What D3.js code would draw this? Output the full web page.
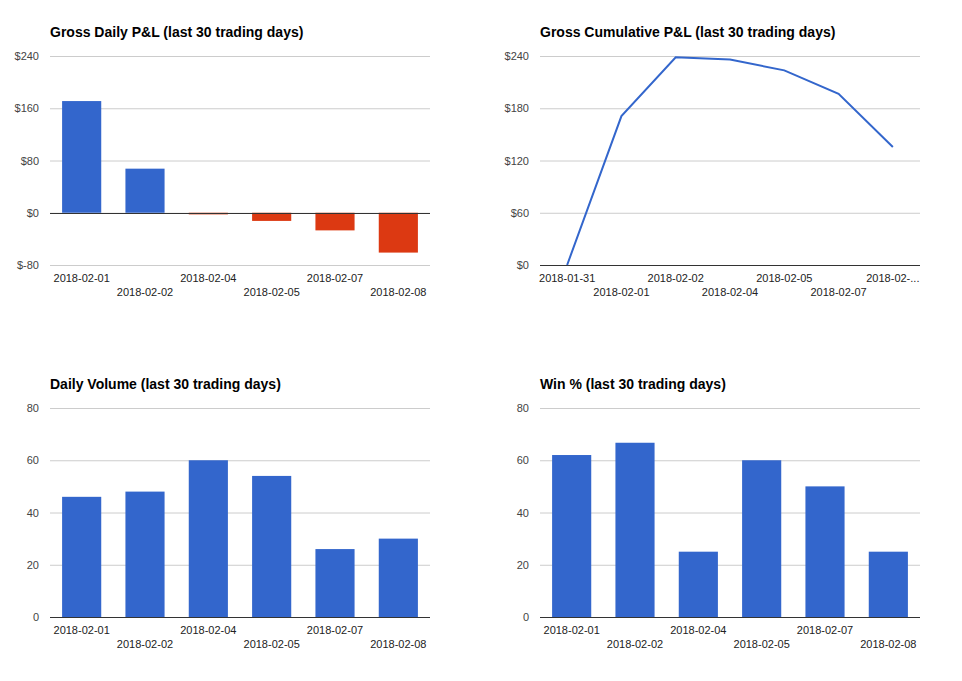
<!DOCTYPE html>
<html>
<head>
<meta charset="utf-8">
<script src="https://cdn.jsdelivr.net/npm/d3@7.9.0/dist/d3.min.js"></script>
<style>
  body { margin: 0; background: #fff; }
  svg { display: block; font-family: Arial, "Liberation Sans", sans-serif; }
  .tick text { fill: #444; font-size: 11px; }
  .title { font-size: 14px; font-weight: bold; fill: #000; }
</style>
</head>
<body>
<svg id="dash" width="962" height="681"></svg>
<script>
// data
const days = ['2018-02-01', '2018-02-02', '2018-02-04', '2018-02-05', '2018-02-07', '2018-02-08'];
const dailyPnl = [171, 67.5, -2.5, -12.5, -27, -61];
const pnlTicks = [-80, 0, 80, 160, 240];

const cumDays = ['2018-01-31', '2018-02-01', '2018-02-02', '2018-02-04', '2018-02-05', '2018-02-07', '2018-02-...'];
const cumPnl = [0, 171, 238.5, 236, 223.5, 196.5, 135.5];
const cumTicks = [0, 60, 120, 180, 240];

const volume = [46, 48, 60, 54, 26, 30];
const winPct = [62, 66.7, 25, 60, 50, 25];
const countTicks = [0, 20, 40, 60, 80];

const svg = d3.select('#dash');
const W = 380, H = 209;
const BLUE = '#3366cc', RED = '#dc3912';

function frame(x0, y0, title, ticks, fmt) {
  const g = svg.append('g').attr('transform', `translate(${x0},${y0})`);
  g.append('text').attr('class', 'title').attr('x', 0).attr('y', -19).text(title);
  const y = d3.scaleLinear().domain([ticks[0], ticks[ticks.length - 1]]).range([H, 0]);
  const ax = g.append('g')
    .call(d3.axisLeft(y).tickValues(ticks).tickSize(-W).tickPadding(11).tickFormat(fmt));
  ax.select('.domain').remove();
  ax.selectAll('.tick line').attr('stroke', '#ccc');
  return { g, y };
}

function zeroLine(g, y) {
  g.append('line')
    .attr('x1', 0).attr('x2', W)
    .attr('y1', Math.round(y(0)) + 0.5).attr('y2', Math.round(y(0)) + 0.5)
    .attr('stroke', '#333');
}

function xLabels(g, x, labels) {
  g.selectAll('.xl').data(labels).join('text')
    .attr('class', 'xl')
    .attr('x', d => x(d) + (x.bandwidth ? x.bandwidth() / 2 : 0))
    .attr('y', (d, i) => H + (i % 2 ? 30.5 : 17))
    .attr('text-anchor', 'middle')
    .attr('font-size', 11).attr('fill', '#222')
    .text(d => d);
}

function barChart(x0, y0, title, values, ticks, fmt, colorNeg) {
  const { g, y } = frame(x0, y0, title, ticks, fmt);
  const x = d3.scaleBand().domain(days).range([0, W]).paddingInner(0.382).paddingOuter(0.191);
  g.append('g').selectAll('rect').data(values).join('rect')
    .attr('x', (d, i) => x(days[i]))
    .attr('width', x.bandwidth())
    .attr('y', d => y(Math.max(0, d)))
    .attr('height', d => Math.abs(y(d) - y(0)))
    .attr('fill', d => (colorNeg && d < 0) ? RED : BLUE);
  zeroLine(g, y);
  xLabels(g, x, days);
}

function lineChart(x0, y0, title, values, ticks, fmt) {
  const { g, y } = frame(x0, y0, title, ticks, fmt);
  const x = d3.scalePoint().domain(cumDays).range([0, W]).padding(0.5);
  zeroLine(g, y);
  g.append('path')
    .datum(values)
    .attr('fill', 'none')
    .attr('stroke', BLUE)
    .attr('stroke-width', 2)
    .attr('d', d3.line().x((d, i) => x(cumDays[i])).y(d => y(d)));
  xLabels(g, x, cumDays);
}

const money = d => '$' + d;
barChart(50, 56, 'Gross Daily P&L (last 30 trading days)', dailyPnl, pnlTicks, money, true);
lineChart(540, 56, 'Gross Cumulative P&L (last 30 trading days)', cumPnl, cumTicks, money);
barChart(50, 408, 'Daily Volume (last 30 trading days)', volume, countTicks, d => d, false);
barChart(540, 408, 'Win % (last 30 trading days)', winPct, countTicks, d => d, false);
</script>
</body>
</html>
